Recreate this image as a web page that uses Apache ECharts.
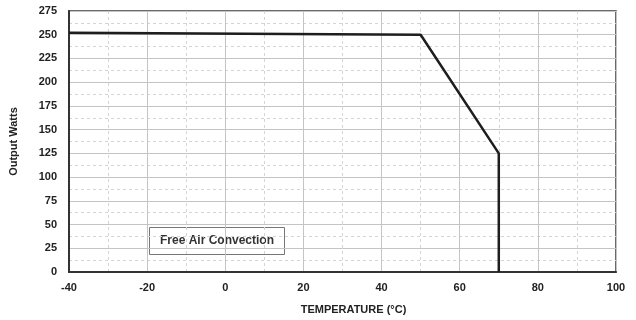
<!DOCTYPE html>
<html>
<head>
<meta charset="utf-8">
<title></title>
<script src="https://cdn.jsdelivr.net/npm/echarts@6/dist/echarts.min.js"></script>
<style>
  html, body { margin: 0; padding: 0; background: #fff; }
  #main { width: 636px; height: 320px; }
</style>
</head>
<body>
<div id="main"></div>
<script type="text/javascript">
    // derating curve
    var temps = [-40, 50, 70, 70];
    var watts = [252, 250, 125, 0];

    var xTicks = { min: -40, max: 100, step: 20 };
    var yTicks = { min: 0, max: 275, step: 25 };

    var curve = temps.map(function (t, i) { return [t, watts[i]]; });

    var myChart = echarts.init(document.getElementById('main'));
    var font = '"Liberation Sans", Arial, sans-serif';

    var option = {
        backgroundColor: '#fff',
        animation: false,
        grid: {
            left: 68,
            right: 20,
            top: 11,
            bottom: 40,
            show: true,
            borderColor: '#3a3a3a',
            borderWidth: 1.5
        },
        xAxis: {
            type: 'value',
            min: xTicks.min,
            max: xTicks.max,
            interval: xTicks.step,
            name: 'TEMPERATURE (°C)',
            nameLocation: 'middle',
            nameGap: 32,
            nameTextStyle: { fontFamily: font, fontWeight: 'bold', fontSize: 11, color: '#222', padding: [0, 0, 0, 22] },
            axisLine: { show: true, onZero: false, lineStyle: { color: '#333', width: 2 } },
            axisTick: { show: false },
            axisLabel: { fontFamily: font, fontWeight: 'bold', fontSize: 11, color: '#222', margin: 10 },
            splitLine: { show: true, lineStyle: { color: '#c4c4c4', width: 1 } },
            minorTick: { show: false, splitNumber: 2 },
            minorSplitLine: { show: true, lineStyle: { color: '#d4d4d4', type: [3, 3], width: 1 } }
        },
        yAxis: {
            type: 'value',
            min: yTicks.min,
            max: yTicks.max,
            interval: yTicks.step,
            name: 'Output Watts',
            nameLocation: 'middle',
            nameGap: 50,
            nameTextStyle: { fontFamily: font, fontWeight: 'bold', fontSize: 11, color: '#222' },
            axisLine: { show: true, onZero: false, lineStyle: { color: '#333', width: 2 } },
            axisTick: { show: false },
            axisLabel: { fontFamily: font, fontWeight: 'bold', fontSize: 11, color: '#222', margin: 12 },
            splitLine: { show: true, lineStyle: { color: '#c4c4c4', width: 1 } },
            minorTick: { show: false, splitNumber: 2 },
            minorSplitLine: { show: true, lineStyle: { color: '#d4d4d4', type: [3, 3], width: 1 } }
        },
        graphic: [
            {
                type: 'group',
                left: 149,
                top: 227,
                children: [
                    {
                        type: 'rect',
                        shape: { x: 0, y: 0, width: 135, height: 27 },
                        style: { fill: '#fff', stroke: '#777', lineWidth: 1 }
                    },
                    {
                        type: 'text',
                        x: 67.5,
                        y: 13.5,
                        style: {
                            text: 'Free Air Convection',
                            fontFamily: font,
                            fontWeight: 'bold',
                            fontSize: 12,
                            fill: '#333',
                            align: 'center',
                            verticalAlign: 'middle'
                        }
                    }
                ]
            }
        ],
        series: [
            {
                type: 'line',
                data: curve,
                symbol: 'none',
                lineStyle: { color: '#1e1e1e', width: 2.5 },
                z: 5
            }
        ]
    };

    myChart.setOption(option);
</script>
</body>
</html>
